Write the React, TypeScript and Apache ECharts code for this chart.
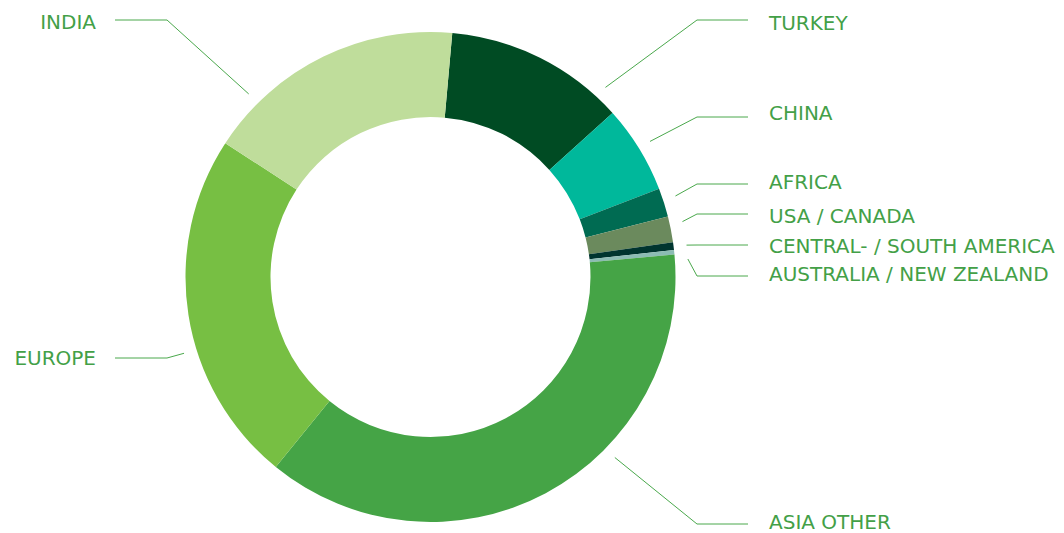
import React, { useEffect, useRef } from "react";
import * as echarts from "echarts";

const categories = [
  "TURKEY",
  "CHINA",
  "AFRICA",
  "USA / CANADA",
  "CENTRAL- / SOUTH AMERICA",
  "AUSTRALIA / NEW ZEALAND",
  "ASIA OTHER",
  "EUROPE",
  "INDIA",
];

const shares = [11.9, 5.8, 1.9, 1.7, 0.5, 0.3, 37.3, 23.3, 17.2];

const colors = [
  "#004b23",
  "#00b89b",
  "#006b52",
  "#6b8a5d",
  "#00352f",
  "#8cbcb4",
  "#45a446",
  "#77bf43",
  "#bfdd9b",
];

// label layout (not data): anchor angle on ring (deg clockwise from north), line y, text y, side
const labelAnchorDeg = [42.7, 58.3, 71.7, 77.6, 82.9, 86, 134.4, 252.8, 315.2];
const labelLineY = [20, 117, 184, 214, 245, 276, 524, 358, 20];
const labelTextY = [23, 113, 182, 216, 246, 274, 522, 358, 22];
const labelSide = ["r", "r", "r", "r", "r", "r", "r", "l", "l"];

const CX = 430.5;
const CY = 277;
const R_IN = 160;
const R_OUT = 245;
const ANCHOR_R = 258;

export default function App() {
  const ref = useRef<HTMLDivElement>(null);

  useEffect(() => {
    if (!ref.current) return;
    const chart = echarts.init(ref.current, undefined, { renderer: "svg" });
    chart.setOption({
      animation: false,
      backgroundColor: "#ffffff",
      series: [
        {
          type: "pie",
          center: [CX, CY],
          radius: [R_IN, R_OUT],
          startAngle: 84.9,
          clockwise: true,
          avoidLabelOverlap: false,
          emphasis: { disabled: true },
          itemStyle: { borderWidth: 0 },
          label: {
            show: true,
            position: "outside",
            formatter: "{b}",
            color: "#43a047",
            fontFamily: "DejaVu Sans",
            fontSize: 20,
            lineHeight: 20,
            distanceToLabelLine: 0,
          },
          labelLine: {
            show: true,
            length: 10,
            length2: 10,
            smooth: false,
            lineStyle: { color: "#4aa84c", width: 1 },
          },
          labelLayout: (params: any) => {
            const i = params.dataIndex;
            const a = (labelAnchorDeg[i] * Math.PI) / 180;
            const ax = CX + ANCHOR_R * Math.sin(a);
            const ay = CY - ANCHOR_R * Math.cos(a);
            const right = labelSide[i] === "r";
            const elbowX = right ? 697 : 167;
            const endX = right ? 748 : 115;
            return {
              x: right ? 769 : 96,
              y: labelTextY[i],
              align: right ? "left" : "right",
              verticalAlign: "middle",
              labelLinePoints: [
                [ax, ay],
                [elbowX, labelLineY[i]],
                [endX, labelLineY[i]],
              ],
            };
          },
          data: categories.map((name, i) => ({
            name,
            value: shares[i],
            itemStyle: { color: colors[i] },
          })),
        },
      ],
    });
    return () => chart.dispose();
  }, []);

  return (
    <div
      ref={ref}
      style={{ position: "absolute", left: 0, top: 0, width: 1064, height: 533 }}
    />
  );
}
